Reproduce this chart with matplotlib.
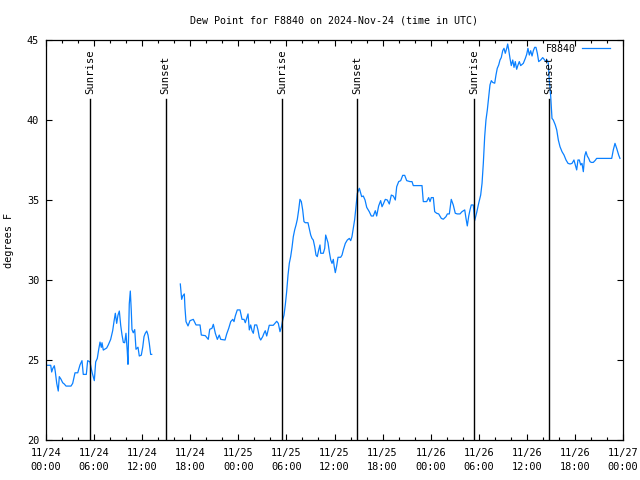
import numpy as np
import pandas as pd
import matplotlib
matplotlib.use('Agg')
import matplotlib.pyplot as plt
import matplotlib.dates as mdates

# Dew point readings, hours since 2024-11-24 00:00 UTC (two runs with a data gap)
seg1_hours = [0.0, 0.59, 0.71, 0.84, 1.04, 1.16, 1.34, 1.53, 1.66, 1.87, 2.08, 2.28, 2.50,
              3.12, 3.33, 3.62, 3.96, 4.24, 4.49, 4.65, 5.03, 5.20, 5.49, 5.62, 5.78, 6.03,
              6.20, 6.40, 6.58, 6.74, 6.90, 6.99, 7.15, 7.32, 7.57, 7.77, 8.07, 8.32, 8.49,
              8.65, 8.82, 8.98, 9.15, 9.32, 9.48, 9.65, 9.82, 9.98, 10.14, 10.23, 10.32,
              10.39, 10.52, 10.64, 10.73, 10.89, 11.07, 11.23, 11.48, 11.64, 11.89, 12.07,
              12.23, 12.39, 12.57, 12.73, 12.89, 13.06, 13.19]
seg1_dewpt = [24.67, 24.67, 24.25, 24.46, 24.64, 24.27, 23.54, 23.06, 23.96, 23.8, 23.58, 23.5,
              23.37, 23.37, 23.54, 24.2, 24.2, 24.69, 24.96, 24.1, 24.1, 24.96, 24.88, 24.52,
              24.17, 23.71, 24.88, 25.1, 25.67, 26.12, 25.79, 26.08, 25.62, 25.67, 25.75, 25.94,
              26.29, 26.83, 27.42, 27.92, 27.29, 27.8, 28.06, 27.17, 26.58, 26.1, 26.08, 26.67,
              25.56, 24.73, 26.9, 28.5, 29.31, 28.1, 26.9, 26.7, 26.9, 25.67, 25.8, 25.25, 25.3,
              25.8, 26.46, 26.67, 26.81, 26.56, 26.04, 25.35, 25.35]

seg2_hours = [16.76, 16.85, 16.93, 17.06, 17.26, 17.34, 17.47, 17.72, 17.97, 18.38, 18.72,
              19.22, 19.38, 19.88, 20.25, 20.43, 20.71, 20.88, 21.13, 21.38, 21.62, 21.80,
              22.34, 22.55, 22.80, 23.05, 23.30, 23.46, 23.62, 23.87, 24.21, 24.46, 24.71,
              24.87, 25.04, 25.21, 25.37, 25.54, 25.71, 25.87, 26.04, 26.29, 26.45, 26.62,
              26.79, 27.04, 27.20, 27.36, 27.54, 27.70, 27.86, 28.36, 28.79, 28.99, 29.20,
              29.41, 29.54, 29.70, 29.86, 30.03, 30.20, 30.36, 30.53, 30.70, 30.86, 31.03,
              31.20, 31.36, 31.53, 31.69, 31.86, 32.03, 32.19, 32.36, 32.69, 32.85, 33.03,
              33.19, 33.35, 33.53, 33.69, 33.85, 34.03, 34.19, 34.28, 34.60, 34.78, 34.90,
              35.03, 35.19, 35.35, 35.53, 35.69, 35.85, 35.97, 36.10, 36.27, 36.44, 36.77,
              36.94, 37.10, 37.35, 37.60, 37.85, 38.02, 38.18, 38.35, 38.52, 38.68, 38.85,
              39.10, 39.39, 39.59, 39.81, 40.02, 40.34, 40.59, 40.84, 41.09, 41.26, 41.51,
              41.76, 41.93, 42.09, 42.34, 42.59, 42.84, 43.09, 43.34, 43.59, 43.76, 44.01,
              44.26, 44.51, 44.76, 45.01, 45.42, 45.67, 45.83, 46.92, 47.08, 47.50, 47.75,
              47.92, 48.08, 48.33, 48.50, 48.75, 49.00, 49.33, 49.58, 49.91, 50.08, 50.33,
              50.57, 50.82, 51.07, 51.32, 51.66, 51.91, 52.25, 52.41, 52.57, 52.75, 52.91,
              53.07, 53.32, 53.49, 53.74, 53.99, 54.24, 54.41, 54.57, 54.74, 54.90, 55.07,
              55.24, 55.40, 55.57, 55.74, 55.99, 56.15, 56.31, 56.49, 56.65, 56.81, 56.99,
              57.15, 57.31, 57.49, 57.61, 57.74, 57.90, 58.06, 58.24, 58.40, 58.56, 58.73,
              58.90, 59.06, 59.23, 59.56, 59.81, 59.98, 60.14, 60.31, 60.48, 60.65, 60.81,
              60.98, 61.14, 61.31, 61.48, 61.73, 61.98, 62.23, 62.39, 62.55, 62.68, 62.80,
              62.98, 63.14, 63.30, 63.55, 63.73, 63.93, 64.14, 64.39, 64.64, 64.89, 65.14,
              65.39, 65.64, 65.88, 66.05, 66.22, 66.38, 66.55, 66.72, 66.88, 67.05, 67.22,
              67.38, 67.54, 67.72, 67.88, 68.04, 68.29, 68.54, 68.71, 70.59, 70.79, 71.00,
              71.21, 71.46, 71.62]
seg2_dewpt = [29.75, 29.25, 28.79, 29.0, 29.13, 28.27, 27.4, 27.13, 27.46, 27.54, 27.19,
              27.19, 26.56, 26.52, 26.29, 26.92, 26.98, 27.23, 26.67, 26.29, 26.56, 26.29,
              26.25, 26.63, 26.98, 27.4, 27.54, 27.4, 27.75, 28.13, 28.13, 27.54, 27.54,
              27.33, 27.6, 27.88, 26.88, 27.19, 26.83, 26.67, 27.19, 27.19, 26.88, 26.42,
              26.25, 26.46, 26.67, 26.83, 26.5, 26.83, 27.17, 27.17, 27.42, 27.29, 26.77,
              27.13, 27.5, 27.81, 28.44, 29.27, 30.31, 31.04, 31.46, 32.04, 32.71, 33.13,
              33.44, 33.79, 34.38, 35.04, 34.9, 34.38, 33.65, 33.58, 33.58, 33.23, 32.81,
              32.6, 32.5, 32.08, 31.56, 31.46, 31.88, 32.19, 31.67, 31.67, 31.98, 32.81,
              32.6, 32.33, 31.77, 31.25, 31.04, 31.29, 30.83, 30.46, 30.88, 31.42, 31.42,
              31.56, 31.88, 32.29, 32.5, 32.6, 32.46, 32.71, 33.23, 33.79, 34.58, 35.42,
              35.73, 35.21, 35.25, 35.0, 34.54, 34.27, 34.0, 34.0, 34.33, 34.0, 34.63,
              34.96, 34.58, 34.75, 35.04, 35.0, 34.75, 35.31, 35.25, 35.0, 35.83, 36.15,
              36.21, 36.54, 36.54, 36.21, 36.15, 36.15, 35.9, 35.9, 34.9, 34.9, 35.15,
              34.9, 35.15, 35.15, 34.27, 34.17, 34.13, 33.85, 33.8, 33.96, 34.13, 34.13,
              35.04, 34.69, 34.17, 34.13, 34.13, 34.27, 34.38, 33.85, 33.38, 34.0, 34.38,
              34.69, 34.69, 33.71, 34.21, 34.79, 35.31, 36.04, 37.29, 38.96, 40.0, 40.63,
              41.46, 42.19, 42.46, 42.35, 42.3, 42.81, 43.23, 43.44, 43.75, 43.9, 44.33,
              44.48, 44.17, 44.48, 44.75, 44.38, 43.85, 43.4, 43.75, 43.29, 43.65, 43.17,
              43.44, 43.65, 43.4, 43.54, 43.85, 44.1, 44.48, 44.06, 44.33, 44.0, 44.33,
              44.54, 44.54, 44.17, 43.65, 43.75, 43.9, 43.75, 43.65, 43.75, 43.54, 42.5,
              41.46, 40.1, 40.0, 39.69, 39.38, 38.75, 38.33, 38.02, 37.81, 37.5, 37.29,
              37.25, 37.29, 37.5, 37.19, 36.88, 37.5, 37.5, 37.19, 37.29, 36.77, 37.75,
              38.02, 37.75, 37.6, 37.4, 37.35, 37.35, 37.48, 37.6, 37.6, 38.13, 38.54,
              38.23, 37.81, 37.6]

sunrise_times = ['2024-11-24 05:31', '2024-11-25 05:30', '2024-11-26 05:28']
sunset_times = ['2024-11-24 14:56', '2024-11-25 14:52', '2024-11-26 14:48']

start = pd.Timestamp('2024-11-24 00:00')
end = pd.Timestamp('2024-11-27 00:00')

# join the two runs with a NaN so the gap is not bridged
gap_time = start + pd.Timedelta(hours=15)
times = ([start + pd.Timedelta(hours=h) for h in seg1_hours] + [gap_time] +
         [start + pd.Timedelta(hours=h) for h in seg2_hours])
dewpt = seg1_dewpt + [np.nan] + seg2_dewpt

plt.rcParams['font.family'] = 'DejaVu Sans Mono'
plt.rcParams['font.size'] = 7.2

fig = plt.figure(figsize=(6.4, 4.8), dpi=100)
ax = fig.add_axes([46 / 640, 40 / 480, 577 / 640, 400 / 480])

ax.plot(times, dewpt, color='#0a80ff', lw=0.9, label='F8840')

for t in sunrise_times:
    ax.plot([pd.Timestamp(t)] * 2, [20, 41.3], color='black', lw=1)
    ax.text(pd.Timestamp(t), 41.62, 'Sunrise', rotation=90, ha='center', va='bottom',
            fontsize=7.6)
for t in sunset_times:
    ax.plot([pd.Timestamp(t)] * 2, [20, 41.3], color='black', lw=1)
    ax.text(pd.Timestamp(t), 41.62, 'Sunset', rotation=90, ha='center', va='bottom',
            fontsize=7.6)

ax.set_xlim(start, end)
ax.set_ylim(20, 45)
ax.set_yticks([20, 25, 30, 35, 40, 45])
ax.xaxis.set_major_locator(mdates.HourLocator(byhour=range(0, 24, 6)))
ax.xaxis.set_minor_locator(mdates.HourLocator(byhour=range(0, 24, 2)))
ax.xaxis.set_major_formatter(mdates.DateFormatter('%m/%d\n%H:%M'))
ax.tick_params(which='both', direction='in', top=True, right=True, width=0.8, colors='black',
               labelsize=7.4)
ax.tick_params(which='major', length=4.5)
ax.tick_params(which='minor', length=2.5)
ax.tick_params(axis='x', pad=6)
ax.tick_params(axis='y', pad=5)
for s in ax.spines.values():
    s.set_linewidth(0.9)

ax.set_title('Dew Point for F8840 on 2024-Nov-24 (time in UTC)', fontsize=7.2, pad=12)
ax.set_ylabel('degrees F', labelpad=9, fontsize=7.4)
ax.legend(loc='upper right', bbox_to_anchor=(0.984, 1.0), borderaxespad=0, frameon=False,
          markerfirst=False, handlelength=2.8, handletextpad=0.6)

fig.canvas.draw()
for lbl in ax.get_xticklabels():
    lbl.set_linespacing(1.5)

fig.savefig('out.png', dpi=100)
